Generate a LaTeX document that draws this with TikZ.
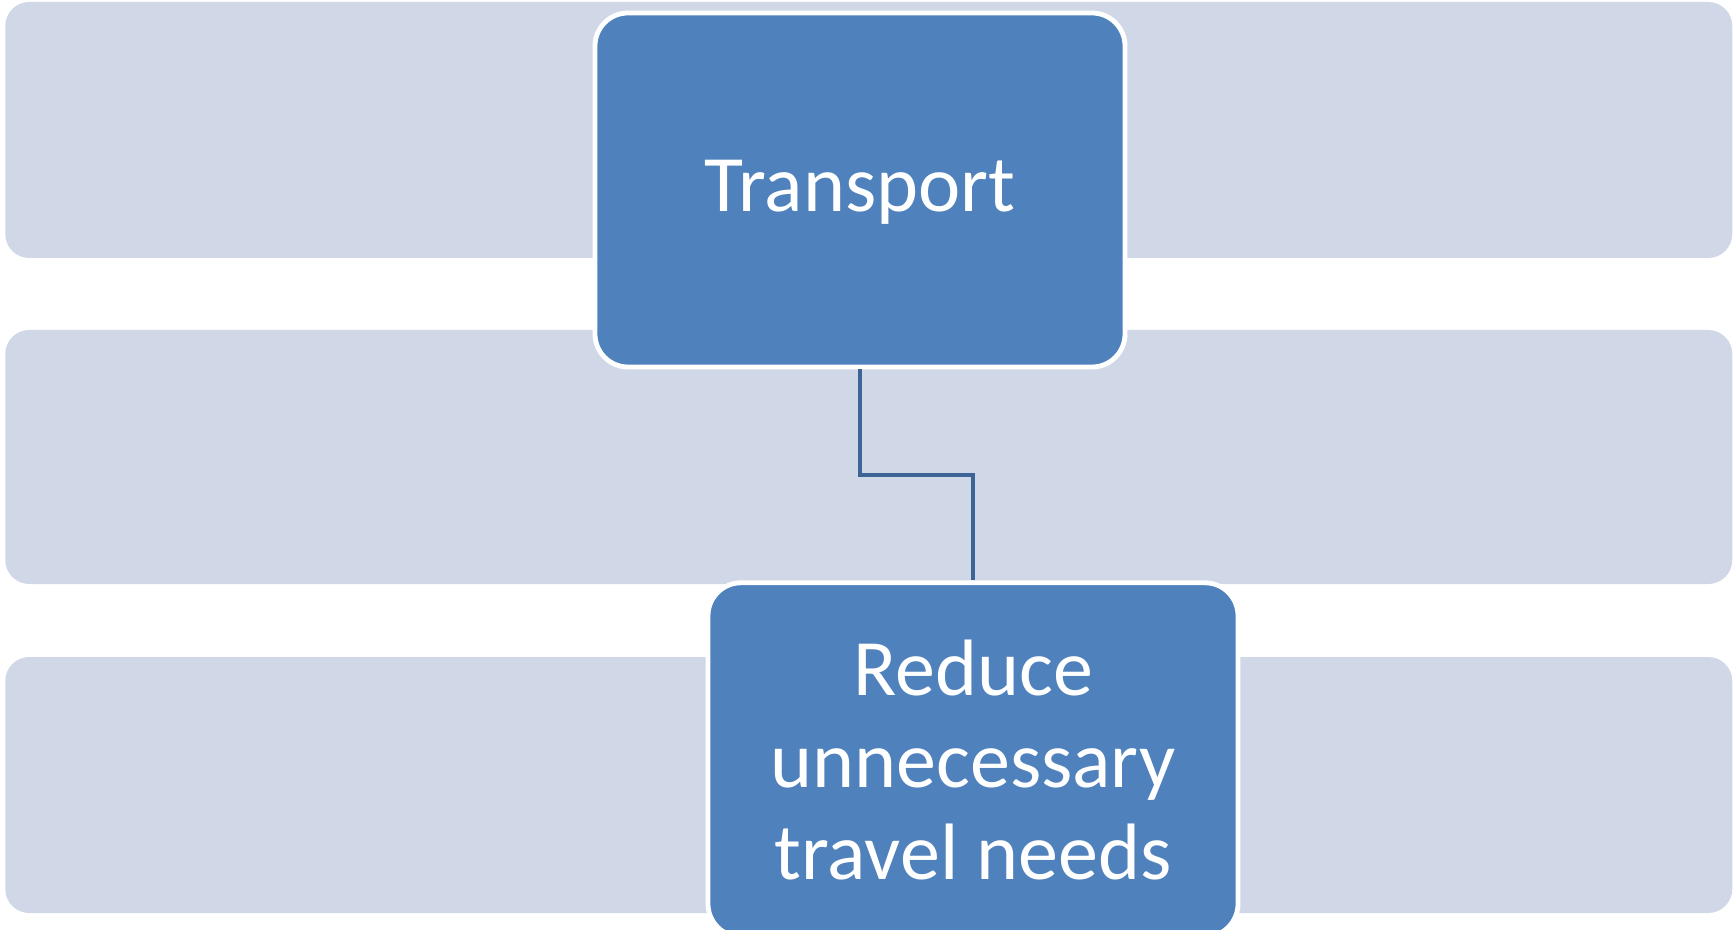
\documentclass[tikz,border=0pt]{standalone}
\usepackage{fontspec}
\setmainfont{Carlito}
\usepackage{xcolor}
\usepackage{tikz}
\usetikzlibrary{positioning,calc}

\definecolor{bandgray}{HTML}{D0D8E8}
\definecolor{boxblue}{HTML}{4F81BD}
\definecolor{linkblue}{HTML}{3C6496}

\begin{document}
\begin{tikzpicture}[x=0.5pt, y=-0.5pt,
        band/.style={fill=bandgray, rectangle, rounded corners=12pt, minimum width=863.5pt, minimum height=128pt, inner sep=0pt},
        block/.style={draw=white, line width=2.4pt, fill=boxblue, rectangle, rounded corners=16.5pt, minimum width=265pt, minimum height=177pt, align=center, text=white, font=\fontsize{40}{46}\selectfont},
        link/.style={draw=linkblue, line width=2.1pt}
    ]
        \useasboundingbox (0,0) rectangle (1735,930);

        % Background bands
        \node [band] (band1) at (868.75,130) {};
        \node [band, minimum height=127pt] (band2) at (868.75,457) {};
        \node [band] (band3) at (868.75,785) {};

        % Blocks
        \node [block, text depth=4pt] (transport) at (860,190) {Transport};
        \node [block, below=105.5pt of transport, xshift=56.5pt] (reduce) {Reduce\\unnecessary\\travel needs};

        % Connection
        \draw [link] (transport.south) |- ($(transport.south)!0.5!(reduce.north)$) -| (reduce.north);
    \end{tikzpicture}
\end{document}
